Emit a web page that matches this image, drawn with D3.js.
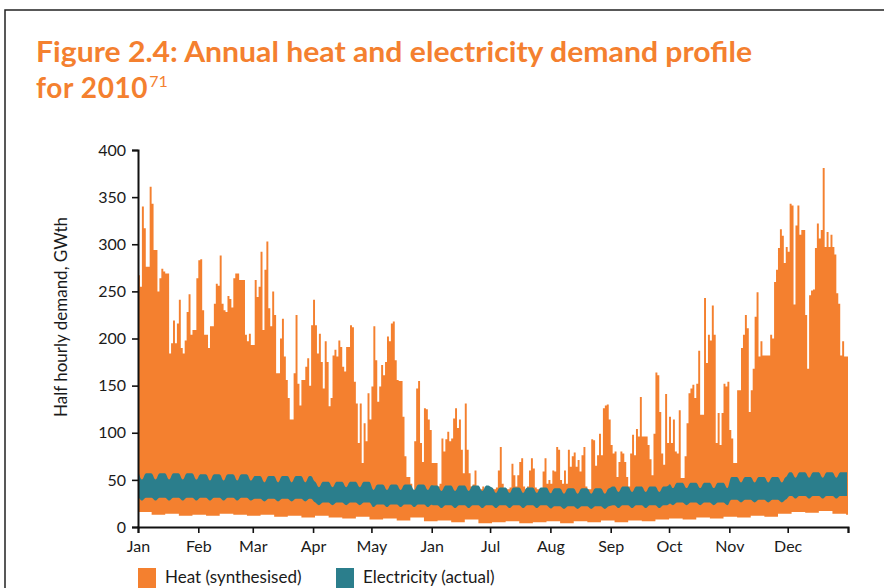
<!DOCTYPE html>
<html>
<head>
<meta charset="utf-8">
<script src="https://cdn.jsdelivr.net/npm/d3@7"></script>
<style>
  body { margin: 0; background: #fff; }
  svg { display: block; }
  text { font-family: Lato, "Open Sans", sans-serif; fill: #1a1a1a; }
</style>
</head>
<body>
<svg id="chart" width="884" height="588"></svg>
<script>
// month labels as printed in the source (it says "Jan" where Jun should be)
let monthLabels = ['Jan', 'Feb', 'Mar', 'Apr', 'May', 'Jan', 'Jul', 'Aug', 'Sep', 'Oct', 'Nov', 'Dec', ''];
let yTicks = [0, 50, 100, 150, 200, 250, 300, 350, 400];

// heat: daily peak of the half hourly values, GWth
let heatPeak = [
  267, 255, 340, 317, 276, 276, 361, 343, 294, 294, 250, 264, 274, 271, 269, 269, 184, 195, 219, 195,
  216, 241, 190, 184, 198, 228, 247, 204, 209, 209, 264, 283, 284, 230, 204, 204, 190, 213, 213, 237,
  258, 256, 288, 237, 230, 228, 245, 242, 233, 264, 269, 269, 262, 262, 262, 204, 197, 205, 193, 193,
  262, 244, 255, 292, 209, 273, 303, 232, 213, 250, 225, 163, 163, 200, 221, 181, 156, 137, 114, 114,
  163, 225, 152, 129, 156, 156, 170, 179, 150, 214, 241, 214, 184, 205, 175, 147, 197, 175, 128, 137,
  182, 188, 181, 198, 191, 170, 165, 191, 191, 214, 212, 154, 131, 89, 131, 68, 110, 91, 142, 114,
  149, 213, 177, 133, 149, 172, 161, 175, 202, 197, 216, 218, 177, 156, 155, 155, 117, 75, 53, 53,
  46, 36, 91, 147, 155, 89, 69, 126, 125, 114, 103, 68, 68, 68, 43, 46, 94, 80, 93, 101,
  91, 94, 115, 126, 105, 114, 82, 57, 131, 82, 57, 43, 45, 60, 32, 33, 40, 43, 38, 40,
  40, 40, 40, 40, 42, 60, 85, 46, 40, 40, 40, 42, 67, 55, 43, 55, 69, 73, 43, 40,
  43, 60, 73, 62, 42, 40, 40, 40, 59, 73, 46, 50, 46, 60, 59, 85, 82, 50, 46, 60,
  46, 82, 64, 75, 79, 64, 71, 59, 76, 85, 43, 40, 40, 93, 92, 65, 76, 99, 76, 126,
  129, 130, 114, 87, 78, 80, 53, 69, 80, 78, 69, 53, 43, 78, 98, 76, 104, 96, 138, 96,
  96, 96, 87, 72, 55, 99, 164, 161, 122, 78, 66, 141, 89, 117, 89, 114, 80, 78, 124, 52,
  52, 75, 110, 142, 147, 151, 137, 152, 187, 119, 119, 243, 174, 204, 198, 235, 204, 89, 121, 87,
  121, 152, 149, 154, 103, 94, 68, 68, 145, 145, 190, 204, 225, 211, 122, 145, 168, 223, 249, 181,
  197, 182, 182, 182, 182, 204, 200, 260, 273, 296, 316, 309, 280, 297, 292, 343, 341, 236, 320, 341,
  310, 315, 315, 225, 168, 246, 251, 252, 296, 322, 306, 315, 381, 297, 313, 297, 310, 297, 289, 248,
  237, 182, 197, 181, 181
];

// heat: lowest half hour of each week
let heatLow = [
  16, 13, 14, 12, 13, 12, 14, 13, 12, 13, 11, 12, 10, 12, 10, 9, 11, 8, 9, 7,
  10, 6, 7, 5, 8, 4, 5, 6, 4, 5, 6, 4, 6, 5, 7, 5, 7, 6, 8, 9,
  8, 10, 9, 11, 10, 12, 11, 14, 16, 15, 17, 14, 13
];

// electricity per month, GW: daytime peak and night trough, weekdays vs weekends
let elecPeakWeekday = [57, 56, 54, 48, 45, 44, 42, 41, 43, 47, 53, 58];
let elecPeakWeekend = [50, 49, 47, 42, 39, 38, 36, 35, 37, 41, 47, 52];
let elecTroughWeekday = [31, 31, 30, 26, 24, 23, 23, 22, 23, 26, 29, 33];
let elecTroughWeekend = [28, 28, 27, 23, 21, 20, 20, 19, 20, 23, 26, 30];

let orange = '#f4802f';
let teal = '#2b7e8c';
let font = 'Lato, "Open Sans", sans-serif';

let svg = d3.select('#chart');

// frame round the figure
svg.append('path')
  .attr('d', 'M5,588V10H884')
  .attr('fill', 'none')
  .attr('stroke', '#222')
  .attr('stroke-width', 1.5);

// title
svg.append('text')
  .attr('x', 36).attr('y', 62)
  .attr('textLength', 716).attr('lengthAdjust', 'spacingAndGlyphs')
  .style('font-size', '28px').style('font-weight', 700).style('fill', orange)
  .text('Figure 2.4: Annual heat and electricity demand profile');
let line2 = svg.append('text')
  .attr('x', 36).attr('y', 98)
  .style('font-size', '28px').style('font-weight', 700).style('fill', orange)
  .style('letter-spacing', '0.6px');
line2.append('tspan').text('for 2010');
line2.append('tspan')
  .attr('dy', -11).attr('dx', 1)
  .style('font-size', '16px').style('font-weight', 400).style('letter-spacing', '0px')
  .text('71');

let start = new Date(2010, 0, 1), end = new Date(2011, 0, 1);

let x = d3.scaleTime().domain([start, end]).range([138, 848]);
let y = d3.scaleLinear().domain([0, 400]).range([527, 150]);

// one row per day
let days = d3.timeDay.range(start, end);
let rows = days.map((d, i) => {
  let weekend = d.getDay() === 0 || d.getDay() === 6;
  let m = d.getMonth();
  return {
    date: d,
    heatTop: heatPeak[i],
    heatBottom: heatLow[Math.floor(i / 7)],
    elecTop: weekend ? elecPeakWeekend[m] : elecPeakWeekday[m],
    elecBottom: weekend ? elecTroughWeekend[m] : elecTroughWeekday[m]
  };
});
// close the last step at 1 Jan 2011
let heatRows = rows.concat([Object.assign({}, rows[rows.length - 1], { date: end })]);

let heatArea = d3.area()
  .curve(d3.curveStepAfter)
  .x(d => x(d.date))
  .y0(d => y(d.heatBottom))
  .y1(d => y(d.heatTop));

// electricity drawn through midday of each day, smoothed into the weekly wave
let elecArea = d3.area()
  .curve(d3.curveBasis)
  .x(d => x(d3.timeHour.offset(d.date, 12)))
  .y0(d => y(d.elecBottom))
  .y1(d => y(d.elecTop));

svg.append('path').datum(heatRows).attr('d', heatArea).attr('fill', orange);
svg.append('path').datum(rows).attr('d', elecArea).attr('fill', teal);

// axes
let yAxis = svg.append('g')
  .attr('transform', 'translate(138,0)')
  .call(d3.axisLeft(y).tickValues(yTicks).tickSize(6).tickPadding(6));

let monthStarts = d3.timeMonth.range(start, new Date(2011, 0, 2));
let xAxis = svg.append('g')
  .attr('transform', 'translate(0,527)')
  .call(d3.axisBottom(x).tickValues(monthStarts).tickSize(6).tickPadding(8)
    .tickFormat((d, i) => monthLabels[i]));

[yAxis, xAxis].forEach(g => {
  g.select('.domain').attr('stroke', '#111').attr('stroke-width', 2);
  g.selectAll('.tick line').attr('stroke', '#111').attr('stroke-width', 1.6);
  g.selectAll('.tick text')
    .style('font-family', font)
    .style('font-size', '16px')
    .attr('fill', '#1a1a1a');
});

// y axis title
svg.append('text')
  .attr('transform', 'translate(67,317) rotate(-90)')
  .attr('text-anchor', 'middle')
  .style('font-size', '17px')
  .text('Half hourly demand, GWth');

// legend, sits right at the bottom edge like the original
let legendItems = [
  { label: 'Heat (synthesised)', color: orange, x: 138 },
  { label: 'Electricity (actual)', color: teal, x: 336 }
];
let legend = svg.selectAll('.legend')
  .data(legendItems)
  .enter()
  .append('g')
  .attr('class', 'legend')
  .attr('transform', d => 'translate(' + d.x + ',568)');
legend.append('rect')
  .attr('width', 18).attr('height', 20)
  .attr('fill', d => d.color);
legend.append('text')
  .attr('x', 27).attr('y', 15)
  .style('font-size', '17px')
  .text(d => d.label);
</script>
</body>
</html>
